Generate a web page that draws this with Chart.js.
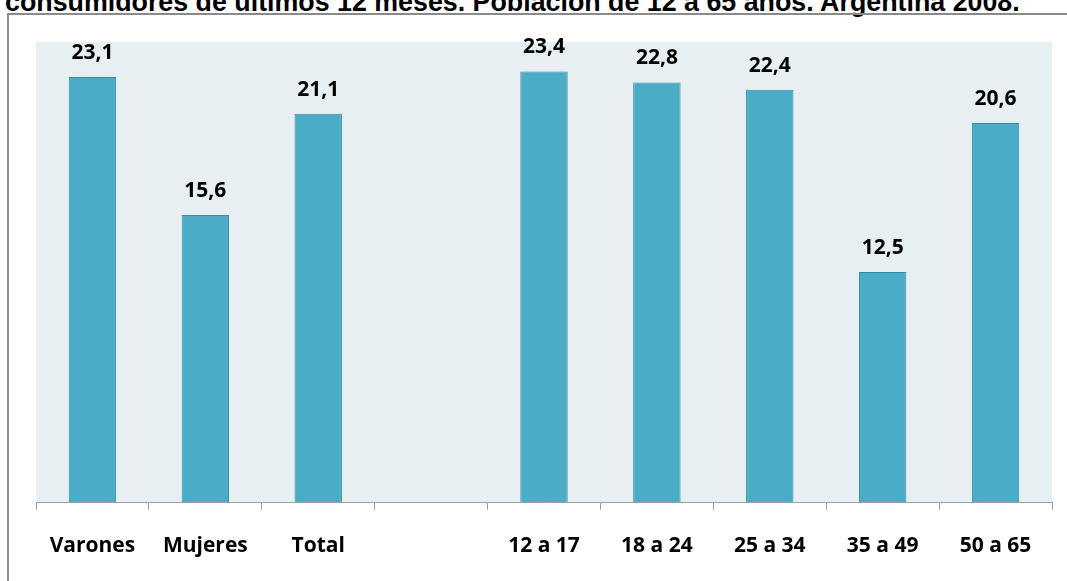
<!DOCTYPE html>
<html>
<head>
<meta charset="utf-8">
<script src="https://cdn.jsdelivr.net/npm/chart.js@4.4.0/dist/chart.umd.min.js"></script>
<style>
  html, body { margin: 0; padding: 0; background: #fff; }
  #wrap { position: relative; width: 1067px; height: 581px; overflow: hidden; }
  #title {
    position: absolute; left: 5px; top: -11px; white-space: nowrap;
    font: bold 26.8px "Liberation Sans", Arial, sans-serif; line-height: 27px; color: #000;
  }
  #frame {
    position: absolute; left: 7px; top: 13px; width: 1100px; height: 600px;
    border-left: 2px solid #8a8a8a; border-top: 2px solid #8a8a8a;
  }
  #chartBox { position: absolute; left: 0; top: 0; width: 1067px; height: 581px; }
</style>
</head>
<body>
<div id="wrap">
  <div id="title">consumidores de últimos 12 meses. Población de 12 a 65 años. Argentina 2008.</div>
  <div id="frame"></div>
  <div id="chartBox"><canvas id="chart"></canvas></div>
</div>
<script>
// categorias del eje x (la cuarta va vacia, es el hueco entre los dos grupos)
const categories = ['Varones', 'Mujeres', 'Total', '', '12 a 17', '18 a 24', '25 a 34', '35 a 49', '50 a 65'];
// porcentajes
const values = [23.1, 15.6, 21.1, null, 23.4, 22.8, 22.4, 12.5, 20.6];
const yMin = 0;
const yMax = 25;

const fmt = v => v.toFixed(1).replace('.', ',');
const labelFont = '"Open Sans", Lato, sans-serif';

// fondo gris azulado del area de trazado
const plotBg = {
  id: 'plotBg',
  beforeDraw(chart) {
    const { ctx, chartArea: a } = chart;
    ctx.save();
    ctx.fillStyle = '#e8eff2';
    ctx.fillRect(a.left, a.top, a.right - a.left, a.bottom - a.top);
    ctx.restore();
  }
};

// etiquetas de valor encima de cada barra
const valueLabels = {
  id: 'valueLabels',
  afterDatasetsDraw(chart) {
    const { ctx } = chart;
    const meta = chart.getDatasetMeta(0);
    ctx.save();
    ctx.fillStyle = '#000';
    ctx.font = 'bold 21px ' + labelFont;
    ctx.textAlign = 'center';
    ctx.textBaseline = 'alphabetic';
    meta.data.forEach((bar, i) => {
      const v = values[i];
      if (v == null) return;
      ctx.fillText(fmt(v), bar.x, bar.y - 18);
    });
    ctx.restore();
  }
};

new Chart(document.getElementById('chart'), {
  type: 'bar',
  data: {
    labels: categories,
    datasets: [{
      data: values,
      backgroundColor: '#4bacc6',
      borderColor: '#3a8aa2',
      borderWidth: 1,
      barPercentage: 0.42,
      categoryPercentage: 1.0
    }]
  },
  options: {
    responsive: true,
    maintainAspectRatio: false,
    animation: false,
    layout: { padding: { top: 42, left: 36, right: 15, bottom: 0 } },
    plugins: {
      legend: { display: false },
      tooltip: { enabled: false }
    },
    scales: {
      x: {
        offset: true,
        grid: {
          offset: true,
          display: true,
          drawOnChartArea: false,
          drawTicks: true,
          tickLength: 8,
          color: '#a0a0a0'
        },
        border: { color: '#a0a0a0', width: 1 },
        ticks: {
          color: '#000',
          font: { family: labelFont, size: 21, weight: 'bold' },
          padding: 23,
          maxRotation: 0,
          autoSkip: false
        },
        afterFit(scale) { scale.height = 79; }
      },
      y: {
        display: false,
        min: yMin,
        max: yMax
      }
    }
  },
  plugins: [plotBg, valueLabels]
});
</script>
</body>
</html>
